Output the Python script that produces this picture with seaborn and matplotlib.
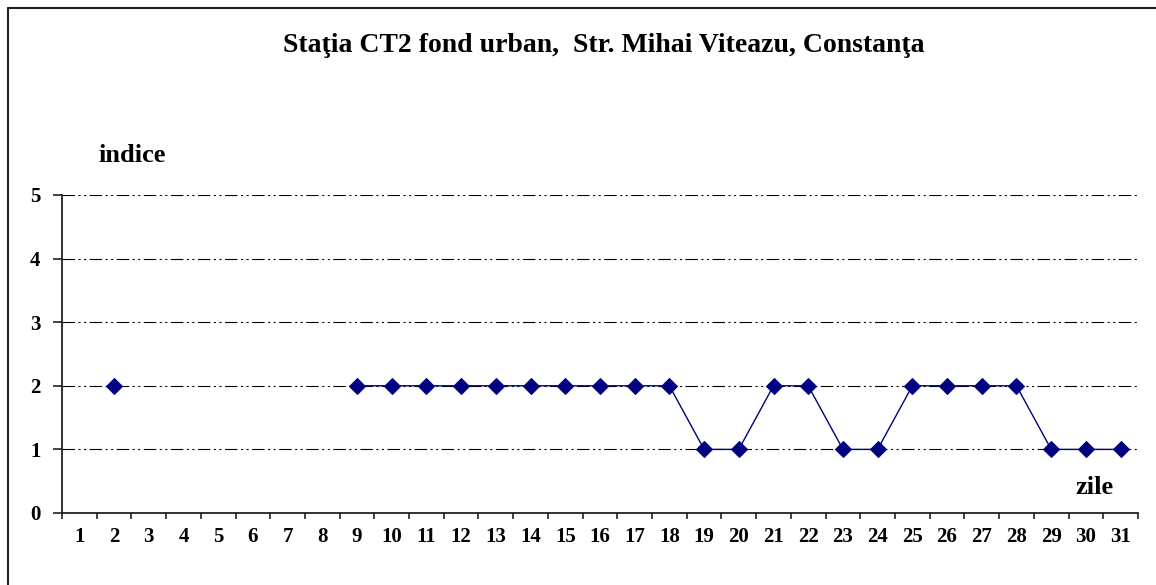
import numpy as np
import pandas as pd
import matplotlib
matplotlib.use('Agg')
import matplotlib.pyplot as plt
from matplotlib.lines import Line2D
import seaborn as sns

# date
zile = list(range(1, 32))
indice = [np.nan, 2, np.nan, np.nan, np.nan, np.nan, np.nan, np.nan,
          2, 2, 2, 2, 2, 2, 2, 2, 2, 2, 1, 1, 2, 2, 1, 1, 2, 2, 2, 2, 1, 1, 1]
y_ticks = [0, 1, 2, 3, 4, 5]
titlu = 'Staţia CT2 fond urban,  Str. Mihai Viteazu, Constanţa'

df = pd.DataFrame({'zi': zile, 'indice': indice})
# segmente continue, ca linia sa nu lege ziua 2 de ziua 9
df['seg'] = df['indice'].isna().cumsum()
df = df.dropna()

sns.set_style('white')
plt.rcParams['font.family'] = ['Liberation Serif', 'DejaVu Serif']
plt.rcParams['font.weight'] = 'bold'
plt.rcParams['text.color'] = 'black'
plt.rcParams['xtick.color'] = 'black'
plt.rcParams['ytick.color'] = 'black'
plt.rcParams['lines.scale_dashes'] = False

fig = plt.figure(figsize=(11.56, 5.85), dpi=100)
ax = fig.add_axes([0.0536, 0.1231, 0.9308, 0.5436])

# grila punct-linie
dashdotdot = (0, (9, 2.5, 1.5, 2.5, 1.5, 2.5))
for v in y_ticks[1:]:
    ax.axhline(v, color='black', lw=0.8, linestyle=dashdotdot, zorder=1)

sns.lineplot(data=df, x='zi', y='indice', units='seg', estimator=None,
             color='#000080', lw=1, marker='D', markersize=8,
             markeredgecolor='#000080', ax=ax, legend=False, zorder=3)

ax.set_xlim(0.5, 31.5)
ax.set_ylim(0, 5)
ax.set_xticks(zile)
ax.set_xticklabels([str(z) for z in zile], fontsize=15, fontweight='bold')
ax.set_xticks(np.arange(0.5, 32, 1), minor=True)
ax.set_yticks(y_ticks)
ax.set_yticklabels([str(t) for t in y_ticks], fontsize=15, fontweight='bold')
ax.tick_params(axis='x', which='major', length=0, pad=10)
ax.tick_params(axis='x', which='minor', length=4, width=1.2, color='#222222', direction='out', bottom=True)
ax.tick_params(axis='y', which='major', length=6.5, width=1.2, color='#222222', direction='out', left=True, pad=9)
ax.set_xlabel('')
ax.set_ylabel('')

for s in ['top', 'right']:
    ax.spines[s].set_visible(False)
for s in ['left', 'bottom']:
    ax.spines[s].set_color('#222222')
    ax.spines[s].set_linewidth(1.3)

fig.text(0.522, 0.922, titlu, ha='center', va='center', fontsize=20, fontweight='bold')
fig.text(0.114, 0.735, 'indice', ha='center', va='center', fontsize=19, fontweight='bold')
fig.text(0.947, 0.167, 'zile', ha='center', va='center', fontsize=19, fontweight='bold')

# chenarul imaginii (doar sus si stanga se vad)
fig.add_artist(Line2D([8/1156, 1], [1-8/585, 1-8/585], color='#222222', lw=1.5, transform=fig.transFigure))
fig.add_artist(Line2D([8/1156, 8/1156], [0, 1-8/585], color='#222222', lw=1.5, transform=fig.transFigure))

fig.savefig('out.png', dpi=100)
